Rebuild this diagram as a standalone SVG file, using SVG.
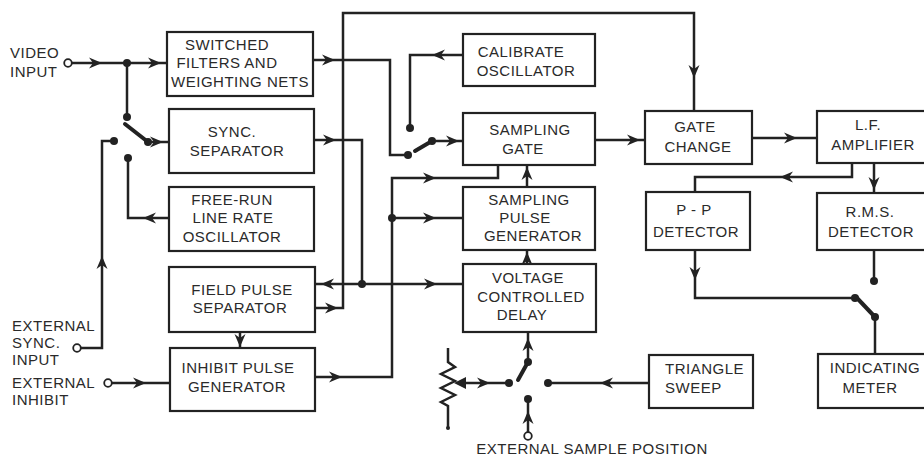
<svg xmlns="http://www.w3.org/2000/svg" xmlns:xlink="http://www.w3.org/1999/xlink" width="924" height="457" viewBox="0 0 924 457">
<style>
.bx{fill:#fff;stroke:#222;stroke-width:2.2}
.t{font-family:"Liberation Sans",Arial,sans-serif;font-size:15px;fill:#2a2a2a;letter-spacing:0.5px;text-anchor:middle}
.l{text-anchor:start}
.w{fill:none;stroke:#222;stroke-width:2.5;stroke-linejoin:miter}
.arm{fill:none;stroke:#222;stroke-width:4;stroke-linecap:round}
.d{fill:#222}
.o{fill:#fff;stroke:#222;stroke-width:1.8}
.a{fill:#222}
</style>
<defs>
<path id="ah" d="M0,0 L-13,-5.5 L-9,0 L-13,5.5 Z"/>
</defs>
<rect width="924" height="457" fill="#fff"/>

<g id="connectors">
<!-- video input -->
<path class="w" d="M72,63 H167"/>
<path class="w" d="M127,63 V117"/>
<path class="arm" d="M125,124 L148,142"/>
<path class="w" d="M148,142 H169"/>
<path class="w" d="M114,141 H102 V348 H81"/>
<path class="w" d="M128,158 V218 H169"/>
<path class="w" d="M112,383 H170"/>
<path class="w" d="M240,332 V348"/>
<!-- switched filters to sampling gate switch -->
<path class="w" d="M313,60 H390 V155 H406"/>
<path class="w" d="M463,55 H410 V128"/>
<path class="arm" d="M415,151 L432,141"/>
<path class="w" d="M432,141 H463"/>
<!-- field pulse to gate change -->
<path class="w" d="M315,308 H343 V13 H694 V111"/>
<!-- sync separator output -->
<path class="w" d="M313,140 H362 V284"/>
<path class="w" d="M315,284 H463"/>
<!-- inhibit output -->
<path class="w" d="M315,377 H392 V178 H498 V165"/>
<path class="w" d="M392,218 H463"/>
<path class="w" d="M527,187 V165"/>
<path class="w" d="M527,264 V250"/>
<!-- potentiometer & delay switch -->
<path class="w" d="M448,348 V362 L455,367 L441,374 L455,381 L441,388 L455,395 L441,402 L448,406 V428"/>
<polygon class="a" points="454,383 466,377 466,389"/>
<path class="w" d="M465,383 H509"/>
<path class="arm" d="M518,380 L528,362"/>
<path class="w" d="M528,362 V332"/>
<path class="w" d="M548,383 H649"/>
<path class="w" d="M528,399 V432"/>
<!-- right side -->
<path class="w" d="M595,140 H645"/>
<path class="w" d="M752,138 H817"/>
<path class="w" d="M852,163 V177 H695 V192"/>
<path class="w" d="M874,163 V193"/>
<path class="w" d="M695,250 V298 H855"/>
<path class="w" d="M874,250 V281"/>
<path class="arm" d="M857,298 L875,317"/>
<path class="w" d="M875,317 V354"/>

<!-- arrowheads -->
<use href="#ah" class="a" transform="translate(102,63)"/>
<use href="#ah" class="a" transform="translate(161,63)"/>
<use href="#ah" class="a" transform="translate(163,142)"/>
<use href="#ah" class="a" transform="translate(102,256) rotate(-90)"/>
<use href="#ah" class="a" transform="translate(143,218) rotate(180)"/>
<use href="#ah" class="a" transform="translate(146,383)"/>
<use href="#ah" class="a" transform="translate(240,347) rotate(90)"/>
<use href="#ah" class="a" transform="translate(335,60)"/>
<use href="#ah" class="a" transform="translate(432,55) rotate(180)"/>
<use href="#ah" class="a" transform="translate(459,141)"/>
<use href="#ah" class="a" transform="translate(694,78) rotate(90)"/>
<use href="#ah" class="a" transform="translate(338,308)"/>
<use href="#ah" class="a" transform="translate(336,140)"/>
<use href="#ah" class="a" transform="translate(321,284) rotate(180)"/>
<use href="#ah" class="a" transform="translate(437,284)"/>
<use href="#ah" class="a" transform="translate(342,377)"/>
<use href="#ah" class="a" transform="translate(436,218)"/>
<use href="#ah" class="a" transform="translate(436,178)"/>
<use href="#ah" class="a" transform="translate(527,167) rotate(-90)"/>
<use href="#ah" class="a" transform="translate(527,252) rotate(-90)"/>
<use href="#ah" class="a" transform="translate(490,383)"/>
<use href="#ah" class="a" transform="translate(528,338) rotate(-90)"/>
<use href="#ah" class="a" transform="translate(600,383) rotate(180)"/>
<use href="#ah" class="a" transform="translate(528,411) rotate(-90)"/>
<use href="#ah" class="a" transform="translate(640,140)"/>
<use href="#ah" class="a" transform="translate(797,138)"/>
<use href="#ah" class="a" transform="translate(780,177) rotate(180)"/>
<use href="#ah" class="a" transform="translate(874,190) rotate(90)"/>
<use href="#ah" class="a" transform="translate(695,280) rotate(90)"/>

<!-- dots -->
<circle class="d" cx="127" cy="63" r="4"/>
<circle class="d" cx="127" cy="117" r="4"/>
<circle class="d" cx="148" cy="142" r="4"/>
<circle class="d" cx="114" cy="141" r="4"/>
<circle class="d" cx="128" cy="158" r="4"/>
<circle class="d" cx="408" cy="155" r="4"/>
<circle class="d" cx="410" cy="128" r="4"/>
<circle class="d" cx="432" cy="141" r="4"/>
<circle class="d" cx="362" cy="284" r="4"/>
<circle class="d" cx="392" cy="218" r="4"/>
<circle class="d" cx="509" cy="383" r="4"/>
<circle class="d" cx="528" cy="362" r="4"/>
<circle class="d" cx="548" cy="383" r="4"/>
<circle class="d" cx="528" cy="399" r="4"/>
<circle class="d" cx="855" cy="298" r="4"/>
<circle class="d" cx="874" cy="281" r="4"/>
<circle class="d" cx="875" cy="317" r="4"/>
<circle class="d" cx="448" cy="428" r="2"/>
<!-- open terminals -->
<circle class="o" cx="68" cy="63" r="3.8"/>
<circle class="o" cx="77" cy="348" r="3.8"/>
<circle class="o" cx="108" cy="383" r="3.8"/>
<circle class="o" cx="528" cy="436" r="3.8"/>
</g>

<g id="labels">
<text class="t l" x="10" y="58">VIDEO</text>
<text class="t l" x="10" y="77">INPUT</text>
<text class="t l" x="12" y="331">EXTERNAL</text>
<text class="t l" x="12" y="348">SYNC.</text>
<text class="t l" x="12" y="365">INPUT</text>
<text class="t l" x="12" y="388">EXTERNAL</text>
<text class="t l" x="12" y="405">INHIBIT</text>
<text class="t" x="592" y="454">EXTERNAL SAMPLE POSITION</text>
</g>

<g id="switched-filters">
<rect class="bx" x="167" y="32" width="146" height="64"/>
<text class="t" x="227" y="50">SWITCHED</text>
<text class="t" x="227" y="68">FILTERS AND</text>
<text class="t" x="240" y="87">WEIGHTING NETS</text>
</g>
<g id="sync-separator">
<rect class="bx" x="169" y="109" width="145" height="64"/>
<text class="t" x="232" y="137">SYNC.</text>
<text class="t" x="237" y="156">SEPARATOR</text>
</g>
<g id="free-run-osc">
<rect class="bx" x="169" y="187" width="145" height="64"/>
<text class="t" x="232" y="205">FREE-RUN</text>
<text class="t" x="233" y="223">LINE RATE</text>
<text class="t" x="232" y="242">OSCILLATOR</text>
</g>
<g id="field-pulse-separator">
<rect class="bx" x="169" y="267" width="146" height="65"/>
<text class="t" x="242" y="295">FIELD PULSE</text>
<text class="t" x="240" y="313">SEPARATOR</text>
</g>
<g id="inhibit-pulse-generator">
<rect class="bx" x="170" y="348" width="145" height="63"/>
<text class="t" x="238" y="373">INHIBIT PULSE</text>
<text class="t" x="237" y="392">GENERATOR</text>
</g>
<g id="calibrate-oscillator">
<rect class="bx" x="463" y="34" width="132" height="52"/>
<text class="t" x="521" y="57">CALIBRATE</text>
<text class="t" x="526" y="76">OSCILLATOR</text>
</g>
<g id="sampling-gate">
<rect class="bx" x="463" y="113" width="132" height="52"/>
<text class="t" x="530" y="135">SAMPLING</text>
<text class="t" x="523" y="154">GATE</text>
</g>
<g id="sampling-pulse-generator">
<rect class="bx" x="463" y="187" width="132" height="63"/>
<text class="t" x="529" y="205">SAMPLING</text>
<text class="t" x="525" y="223">PULSE</text>
<text class="t" x="533" y="241">GENERATOR</text>
</g>
<g id="voltage-controlled-delay">
<rect class="bx" x="463" y="264" width="133" height="68"/>
<text class="t" x="528" y="283">VOLTAGE</text>
<text class="t" x="531" y="302">CONTROLLED</text>
<text class="t" x="522" y="320">DELAY</text>
</g>
<g id="triangle-sweep">
<rect class="bx" x="649" y="355" width="104" height="53"/>
<text class="t l" x="665" y="374">TRIANGLE</text>
<text class="t l" x="665" y="393">SWEEP</text>
</g>
<g id="gate-change">
<rect class="bx" x="645" y="111" width="107" height="53"/>
<text class="t" x="695" y="132">GATE</text>
<text class="t" x="698" y="152">CHANGE</text>
</g>
<g id="lf-amplifier">
<rect class="bx" x="817" y="111" width="112" height="52"/>
<text class="t" x="868" y="130">L.F.</text>
<text class="t" x="873" y="150">AMPLIFIER</text>
</g>
<g id="pp-detector">
<rect class="bx" x="646" y="192" width="104" height="58"/>
<text class="t" x="694" y="215">P - P</text>
<text class="t" x="696" y="237">DETECTOR</text>
</g>
<g id="rms-detector">
<rect class="bx" x="817" y="193" width="112" height="57"/>
<text class="t" x="870" y="217">R.M.S.</text>
<text class="t" x="871" y="237">DETECTOR</text>
</g>
<g id="indicating-meter">
<rect class="bx" x="818" y="354" width="111" height="54"/>
<text class="t" x="875" y="373">INDICATING</text>
<text class="t" x="870" y="393">METER</text>
</g>
</svg>
